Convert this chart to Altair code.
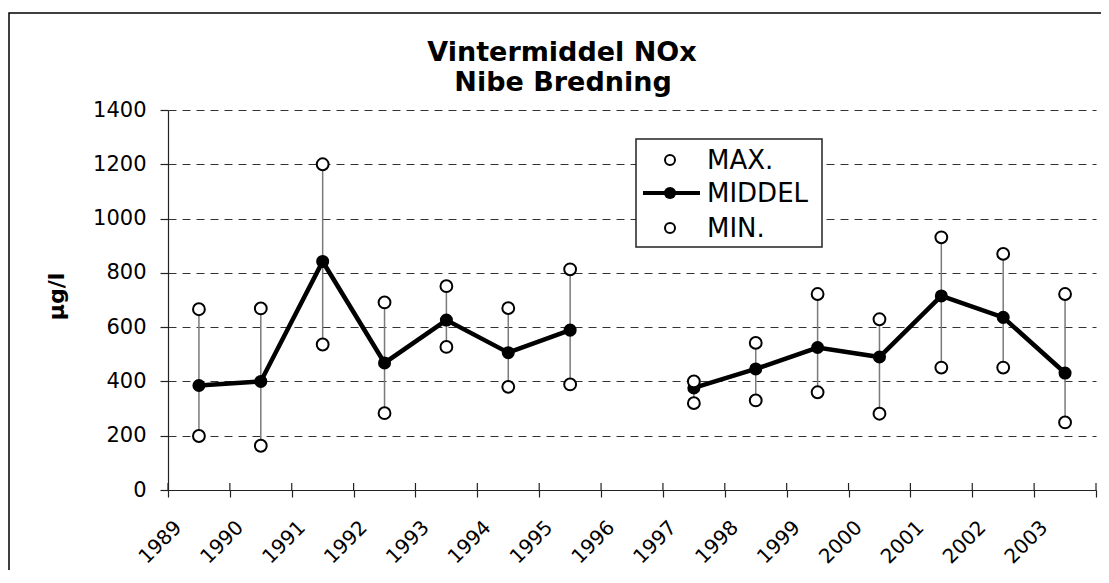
import altair as alt
import pandas as pd

# ---------------- data ----------------
years = ["1989", "1990", "1991", "1992", "1993", "1994", "1995", "1996",
         "1997", "1998", "1999", "2000", "2001", "2002", "2003"]
max_vals = [666, 669, 1200, 691, 751, 670, 813, None, 400, 542, 722, 629, 931, 870, 722]
mid_vals = [385, 400, 842, 468, 626, 506, 589, None, 376, 446, 525, 490, 715, 636, 431]
min_vals = [199, 163, 536, 283, 527, 380, 389, None, 320, 330, 360, 281, 451, 451, 249]
y_ticks = [0, 200, 400, 600, 800, 1000, 1200, 1400]
legend_labels = ["MAX.", "MIDDEL", "MIN."]
title_lines = ["Vintermiddel NOx", "Nibe Bredning"]
y_title = "µg/l"

df = pd.DataFrame({"year": years, "MAX": max_vals, "MIDDEL": mid_vals, "MIN": min_vals})
df["seg"] = df["MIDDEL"].isna().cumsum()
valid = df.dropna().copy()
one = pd.DataFrame({"k": [0]})
tick_df = pd.DataFrame({"year": years})

# ---------------- layout ----------------
W, H = 928, 380
FONT = "DejaVu Sans"

xscale = alt.Scale(domain=years, type="band", paddingInner=0, paddingOuter=0)
yscale = alt.Scale(domain=[0, 1400], nice=False, zero=True)

xaxis = alt.Axis(
    title=None, tickBand="extent", grid=False,
    labelAngle=-45, labelAlign="right", labelBaseline="middle",
    labelOffset=-21, labelPadding=27, tickSize=7,
    labelFont=FONT, labelFontSize=20, labelColor="black",
    domainColor="#222", tickColor="#222", domainWidth=1.2, tickWidth=1.2,
    labelOverlap=False,
)
yaxis = alt.Axis(
    title=y_title, values=y_ticks, format="d", grid=True,
    gridDash=[8, 6], gridColor="#333", gridWidth=1,
    tickSize=8, labelPadding=14, labelFont=FONT, labelFontSize=21,
    labelColor="black", domainColor="#222", tickColor="#222",
    domainWidth=1.2, tickWidth=1.2,
    titleFont=FONT, titleFontSize=22, titleFontWeight="bold", titleColor="black",
    titleAngle=270, titleAlign="center", titleBaseline="middle",
    titleX=-112, titleY=186,
)

X = alt.X("year:O", scale=xscale, axis=xaxis)

def Y(field):
    return alt.Y(f"{field}:Q", scale=yscale, axis=yaxis)

# outer frame of the chart
frame = alt.Chart(one).mark_rect(fill="white", fillOpacity=0, stroke="black", strokeWidth=1.5).encode(
    x=alt.value(-159), x2=alt.value(1200), y=alt.value(-97), y2=alt.value(700)
)

base = alt.Chart(valid)

whiskers = base.mark_rule(color="#7a7a7a", strokeWidth=1.5).encode(
    x=X, y=Y("MIN"), y2="MAX:Q"
)
line = base.mark_line(color="black", strokeWidth=4.5).encode(
    x=X, y=Y("MIDDEL"), detail="seg:N"
)
mid_pts = base.mark_point(shape="circle", filled=True, color="black", size=170, opacity=1).encode(
    x=X, y=Y("MIDDEL")
)
max_pts = base.mark_point(shape="circle", filled=True, fill="white", stroke="black",
                          strokeWidth=2, size=140, opacity=1).encode(x=X, y=Y("MAX"))
min_pts = base.mark_point(shape="circle", filled=True, fill="white", stroke="black",
                          strokeWidth=2, size=140, opacity=1).encode(x=X, y=Y("MIN"))

# inner half of the x ticks (reference ticks cross the axis)
inner_ticks = alt.Chart(tick_df).mark_rule(color="#222", strokeWidth=1.2).encode(
    x=alt.X("year:O", scale=xscale, axis=xaxis, bandPosition=0),
    y=alt.value(H - 7), y2=alt.value(H)
)
inner_last = alt.Chart(tick_df).transform_filter(
    alt.datum.year == years[-1]
).mark_rule(color="#222", strokeWidth=1.2).encode(
    x=alt.X("year:O", scale=xscale, axis=xaxis, bandPosition=1),
    y=alt.value(H - 7), y2=alt.value(H)
)

# title
title1 = alt.Chart(one).mark_text(font=FONT, fontSize=27, fontWeight="bold", color="black",
                                  align="center", baseline="alphabetic").encode(
    x=alt.value(394), y=alt.value(-49), text=alt.value(title_lines[0]))
title2 = alt.Chart(one).mark_text(font=FONT, fontSize=27, fontWeight="bold", color="black",
                                  align="center", baseline="alphabetic").encode(
    x=alt.value(395), y=alt.value(-19), text=alt.value(title_lines[1]))

# legend box
leg_box = alt.Chart(one).mark_rect(fill="white", stroke="#222", strokeWidth=1.5).encode(
    x=alt.value(468), x2=alt.value(654), y=alt.value(29), y2=alt.value(137)
)
row_y = [50, 83, 118]
leg_layers = [leg_box]
leg_layers.append(alt.Chart(one).mark_rule(color="black", strokeWidth=4).encode(
    x=alt.value(475), x2=alt.value(532), y=alt.value(row_y[1])))
for i, lab in enumerate(legend_labels):
    if lab == "MIDDEL":
        sym = alt.Chart(one).mark_point(shape="circle", filled=True, color="black", size=150, opacity=1)
    else:
        sym = alt.Chart(one).mark_point(shape="circle", filled=True, fill="white", stroke="black",
                                        strokeWidth=2, size=100, opacity=1)
    leg_layers.append(sym.encode(x=alt.value(502), y=alt.value(row_y[i])))
    leg_layers.append(alt.Chart(one).mark_text(font=FONT, fontSize=26, color="black",
                                               align="left", baseline="middle").encode(
        x=alt.value(539), y=alt.value(row_y[i] + 1), text=alt.value(lab)))

chart = alt.layer(
    frame, whiskers, line, mid_pts, max_pts, min_pts, inner_ticks, inner_last,
    title1, title2, *leg_layers
).properties(
    width=W, height=H,
    autosize=alt.AutoSizeParams(type="none"),
    padding={"left": 160, "top": 102, "right": 5, "bottom": 80},
    background="white",
).configure_view(stroke=None)

chart.save("out.html", embed_options={"renderer": "svg", "actions": False})
